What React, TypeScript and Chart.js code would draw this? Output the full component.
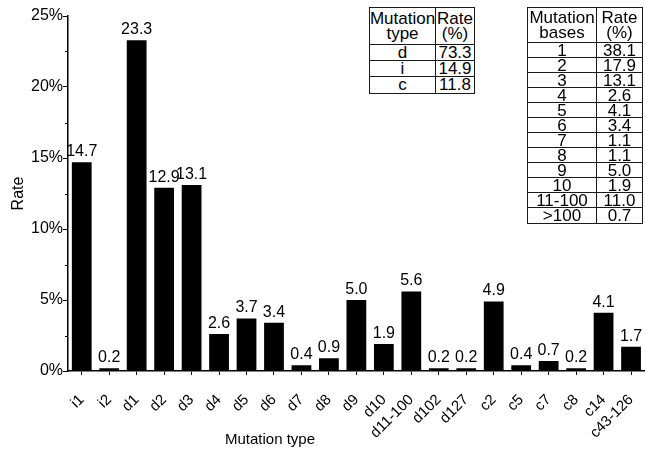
import React, { useEffect, useRef } from 'react';
import { Chart, registerables } from 'chart.js';

Chart.register(...registerables);

const FONT = "'Liberation Sans', Arial, Helvetica, sans-serif";

const CATEGORIES = ['i1', 'i2', 'd1', 'd2', 'd3', 'd4', 'd5', 'd6', 'd7', 'd8', 'd9', 'd10', 'd11-100', 'd102', 'd127', 'c2', 'c5', 'c7', 'c8', 'c14', 'c43-126'];
const RATES = [14.7, 0.2, 23.3, 12.9, 13.1, 2.6, 3.7, 3.4, 0.4, 0.9, 5.0, 1.9, 5.6, 0.2, 0.2, 4.9, 0.4, 0.7, 0.2, 4.1, 1.7];

const Y_MAX = 25;
const Y_STEP = 2.5;
const Y_LABEL_STEP = 5;

const TYPE_HEADER = ['Mutation\ntype', 'Rate\n(%)'];
const TYPE_NAMES = ['d', 'i', 'c'];
const TYPE_RATES = ['73.3', '14.9', '11.8'];

const BASES_HEADER = ['Mutation\nbases', 'Rate\n(%)'];
const BASES_NAMES = ['1', '2', '3', '4', '5', '6', '7', '8', '9', '10', '11-100', '>100'];
const BASES_RATES = ['38.1', '17.9', '13.1', '2.6', '4.1', '3.4', '1.1', '1.1', '5.0', '1.9', '11.0', '0.7'];

const isMajor = (v: number) => Math.abs(v % Y_LABEL_STEP) < 1e-6;

const valueLabels = {
  id: 'valueLabels',
  afterDatasetsDraw(chart: any) {
    const ctx = chart.ctx;
    const meta = chart.getDatasetMeta(0);
    ctx.save();
    ctx.font = `16px ${FONT}`;
    ctx.fillStyle = '#000';
    ctx.textAlign = 'center';
    ctx.textBaseline = 'alphabetic';
    meta.data.forEach((bar: any, i: number) => {
      ctx.fillText(RATES[i].toFixed(1), bar.x, bar.y - 6);
    });
    ctx.restore();
  },
};

const minorTicks = {
  id: 'minorTicks',
  afterDraw(chart: any) {
    const ctx = chart.ctx;
    const y = chart.scales.y;
    const left = chart.chartArea.left;
    ctx.save();
    ctx.strokeStyle = '#000';
    ctx.lineWidth = 1;
    for (let v = 0; v <= Y_MAX + 1e-6; v += Y_STEP) {
      if (isMajor(v)) continue;
      const py = Math.round(y.getPixelForValue(v)) + 0.5;
      ctx.beginPath();
      ctx.moveTo(left - 3, py);
      ctx.lineTo(left, py);
      ctx.stroke();
    }
    ctx.restore();
  },
};

const xTitle = {
  id: 'xTitle',
  afterDraw(chart: any) {
    const ctx = chart.ctx;
    ctx.save();
    ctx.font = `15px ${FONT}`;
    ctx.fillStyle = '#000';
    ctx.textAlign = 'center';
    ctx.textBaseline = 'middle';
    ctx.fillText('Mutation type', chart.chartArea.left + 202, 440);
    ctx.restore();
  },
};

function DataTable(props: {
  left: number; top: number; cols: number[]; headerH: number; rowH: number;
  header: string[]; names: string[]; rates: string[];
}) {
  const { left, top, cols, headerH, rowH, header, names, rates } = props;
  const border = '1px solid #1a1a1a';
  const cell = (text: string, key: string, isHeader: boolean, col: number, last: boolean) => (
    <div
      key={key}
      style={{
        boxSizing: 'border-box',
        borderRight: col === 0 ? border : 'none',
        borderBottom: last ? 'none' : border,
        display: 'flex',
        alignItems: 'center',
        justifyContent: 'center',
        textAlign: 'center',
        whiteSpace: 'pre',
        lineHeight: isHeader ? '15px' : `${rowH}px`,
        overflow: 'visible',
      }}
    >
      {text}
    </div>
  );
  const cells: any[] = [];
  header.forEach((h, c) => cells.push(cell(h, `h${c}`, true, c, false)));
  names.forEach((n, r) => {
    const last = r === names.length - 1;
    cells.push(cell(n, `n${r}`, false, 0, last));
    cells.push(cell(rates[r], `r${r}`, false, 1, last));
  });
  return (
    <div
      style={{
        position: 'absolute',
        left,
        top,
        boxSizing: 'border-box',
        border,
        background: '#fff',
        display: 'grid',
        gridTemplateColumns: cols.map((c) => `${c}px`).join(' '),
        gridTemplateRows: `${headerH}px repeat(${names.length}, ${rowH}px)`,
        fontFamily: FONT,
        fontSize: 17,
        color: '#000',
      }}
    >
      {cells}
    </div>
  );
}

export default function App() {
  const canvasRef = useRef<HTMLCanvasElement | null>(null);

  useEffect(() => {
    const canvas = canvasRef.current;
    if (!canvas) return;
    const chart = new Chart(canvas, {
      type: 'bar',
      data: {
        labels: CATEGORIES,
        datasets: [
          {
            data: RATES,
            backgroundColor: '#000',
            borderWidth: 0,
            barPercentage: 0.72,
            categoryPercentage: 1,
          },
        ],
      },
      options: {
        animation: false,
        responsive: false,
        devicePixelRatio: 1,
        layout: { padding: { top: 16, right: 10, left: 0, bottom: 0 } },
        plugins: {
          legend: { display: false },
          tooltip: { enabled: false },
        },
        scales: {
          x: {
            grid: {
              display: true,
              drawOnChartArea: false,
              offset: false,
              tickLength: 4,
              color: '#000',
            },
            border: { color: '#000', width: 1.5 },
            ticks: {
              autoSkip: false,
              maxRotation: 45,
              minRotation: 45,
              padding: 16,
              color: '#000',
              font: { family: FONT, size: 15 },
            },
            afterFit(scale: any) {
              scale.height = 81;
            },
          },
          y: {
            min: 0,
            max: Y_MAX,
            grid: {
              display: true,
              drawOnChartArea: false,
              tickLength: 5,
              color: '#000',
              tickColor: (ctx: any) => (ctx.tick && isMajor(ctx.tick.value) ? '#000' : 'rgba(0,0,0,0)'),
            },
            border: { color: '#000', width: 1.5 },
            ticks: {
              stepSize: Y_STEP,
              padding: 0,
              color: '#000',
              font: { family: FONT, size: 16 },
              callback: (v: any) => (isMajor(Number(v)) ? `${v}%` : ''),
            },
            title: {
              display: true,
              text: 'Rate',
              color: '#000',
              font: { family: FONT, size: 16 },
              padding: { top: 9, bottom: 0 },
            },
            afterFit(scale: any) {
              scale.width = 68;
            },
          },
        },
      },
      plugins: [valueLabels, minorTicks, xTitle],
    });
    return () => chart.destroy();
  }, []);

  return (
    <div style={{ position: 'absolute', left: 0, top: 0, width: 645, height: 452, overflow: 'hidden', background: '#fff' }}>
      <canvas
        ref={canvasRef}
        width={660}
        height={452}
        style={{ position: 'absolute', left: 0, top: 0, width: 660, height: 452 }}
      />
      <DataTable
        left={369}
        top={7}
        cols={[66, 38]}
        headerH={37}
        rowH={16}
        header={TYPE_HEADER}
        names={TYPE_NAMES}
        rates={TYPE_RATES}
      />
      <DataTable
        left={527}
        top={7}
        cols={[69, 45]}
        headerH={35}
        rowH={15}
        header={BASES_HEADER}
        names={BASES_NAMES}
        rates={BASES_RATES}
      />
    </div>
  );
}
